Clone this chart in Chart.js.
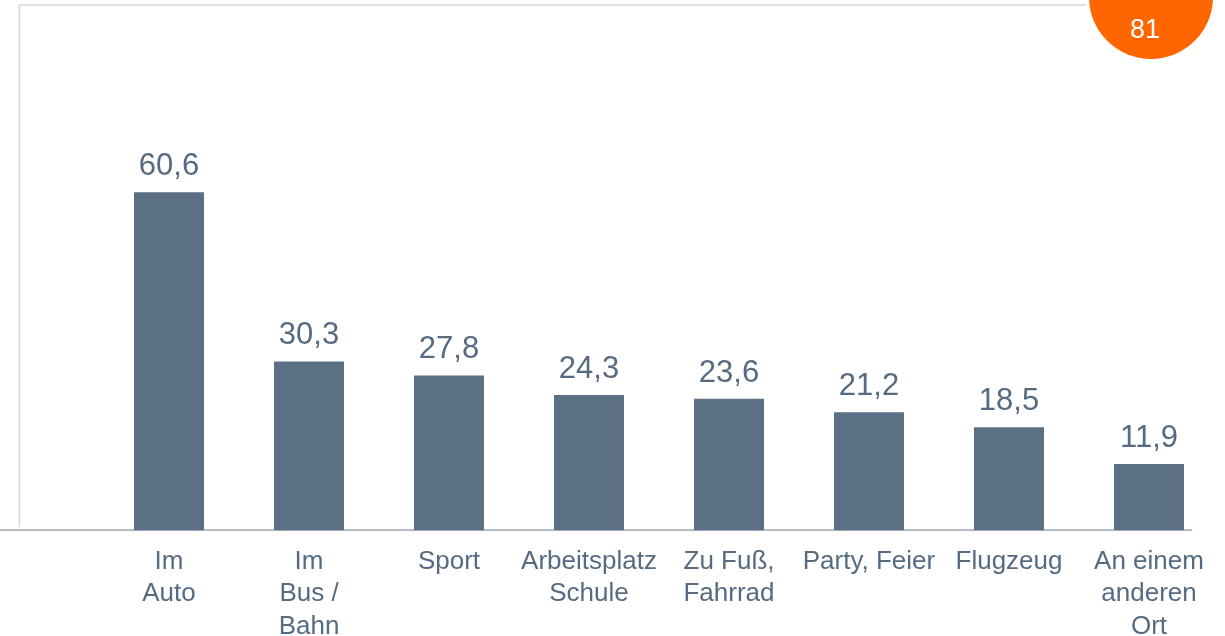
<!DOCTYPE html>
<html>
<head>
<meta charset="utf-8">
<script src="https://cdn.jsdelivr.net/npm/chart.js@4/dist/chart.umd.min.js"></script>
<style>
  html, body { margin: 0; padding: 0; background: #fff; overflow: hidden; }
  #wrap { position: relative; width: 1225px; height: 658px; }
</style>
</head>
<body>
<div id="wrap"><canvas id="chart"></canvas></div>
<script>
// data
const categories = [
  ["Im", "Auto"],
  ["Im", "Bus /", "Bahn"],
  ["Sport"],
  ["Arbeitsplatz", "Schule"],
  ["Zu Fuß,", "Fahrrad"],
  ["Party, Feier"],
  ["Flugzeug"],
  ["An einem", "anderen", "Ort"]
];
const values = [60.6, 30.3, 27.8, 24.3, 23.6, 21.2, 18.5, 11.9];
const pageNumber = "81";

const BAR = "#5b6f85";
const TEXT = "#566b82";
const FONT = "'Liberation Sans', Arial, sans-serif";

const fmt = v => v.toFixed(1).replace(".", ",");

// frame, baseline, page badge
const decor = {
  id: "decor",
  beforeDatasetsDraw(chart) {
    const { ctx, chartArea } = chart;
    ctx.save();
    ctx.strokeStyle = "#d3d9e1";
    ctx.lineWidth = 1.5;
    ctx.beginPath();
    ctx.moveTo(1086, 5);
    ctx.lineTo(19.5, 5);
    ctx.lineTo(19.5, 527);
    ctx.stroke();

    ctx.strokeStyle = "#6a7c8f";
    ctx.lineWidth = 1;
    ctx.beginPath();
    ctx.moveTo(0, chartArea.bottom - 0.5);
    ctx.lineTo(1192, chartArea.bottom - 0.5);
    ctx.stroke();
    ctx.restore();
  },
  afterDatasetsDraw(chart) {
    const { ctx } = chart;
    const meta = chart.getDatasetMeta(0);
    ctx.save();
    ctx.fillStyle = TEXT;
    ctx.font = "31px " + FONT;
    ctx.textAlign = "center";
    ctx.textBaseline = "alphabetic";
    meta.data.forEach((bar, i) => {
      ctx.fillText(fmt(values[i]), bar.x, bar.y - 17);
    });

    ctx.fillStyle = "#ff6600";
    ctx.beginPath();
    ctx.arc(1151, -3, 62, 0, Math.PI * 2);
    ctx.fill();
    ctx.fillStyle = "#ffffff";
    ctx.font = "27px " + FONT;
    ctx.textBaseline = "middle";
    ctx.fillText(pageNumber, 1145, 31);
    ctx.restore();
  }
};

new Chart(document.getElementById("chart"), {
  type: "bar",
  data: {
    labels: categories,
    datasets: [{
      data: values,
      backgroundColor: BAR,
      barPercentage: 0.5,
      categoryPercentage: 1.0
    }]
  },
  options: {
    responsive: true,
    maintainAspectRatio: false,
    animation: false,
    layout: { padding: { left: 99, right: 6, top: 30, bottom: 0 } },
    plugins: {
      legend: { display: false },
      tooltip: { enabled: false }
    },
    scales: {
      x: {
        grid: { display: false, drawTicks: false },
        border: { display: false },
        ticks: {
          color: TEXT,
          font: { family: FONT, size: 26, lineHeight: 1.25 },
          padding: 15,
          autoSkip: false,
          maxRotation: 0
        }
      },
      y: {
        display: false,
        min: 0,
        max: 89.7
      }
    }
  },
  plugins: [decor]
});
</script>
</body>
</html>
